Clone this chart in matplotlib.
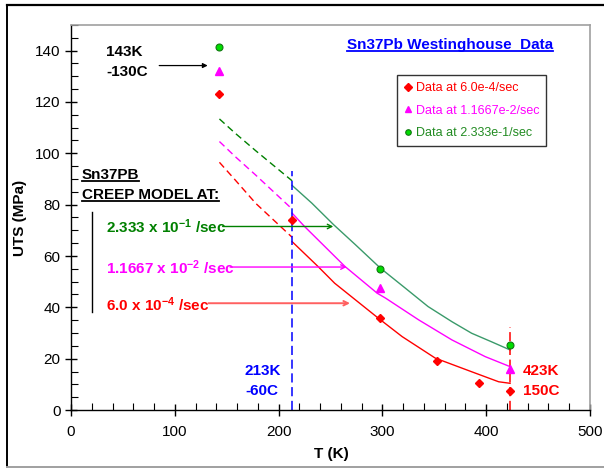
import matplotlib
matplotlib.use("Agg")
import matplotlib.pyplot as plt
from matplotlib.lines import Line2D
from matplotlib.ticker import MultipleLocator

plt.rcParams['font.family'] = ['Liberation Sans', 'DejaVu Sans']
plt.rcParams['mathtext.fontset'] = 'custom'
plt.rcParams['mathtext.rm'] = 'Liberation Sans:bold'
plt.rcParams['mathtext.bf'] = 'Liberation Sans:bold'
plt.rcParams['mathtext.default'] = 'bf'

# Measured UTS data (MPa) at three strain rates
t_slow = [143, 213, 298, 353, 393, 423]
uts_slow = [123.2, 74.0, 35.9, 19.0, 10.7, 7.4]
t_mid = [143, 298, 423]
uts_mid = [132.2, 47.7, 15.9]
t_fast = [143, 298, 423]
uts_fast = [141.4, 55.1, 25.2]

# Creep model predictions: extrapolated (dashed) and fitted (solid) ranges
t_model_ext = [143, 158, 178, 213]
model_ext_fast = [113.4, 107.9, 101.0, 89.3]
model_ext_mid = [104.6, 98.8, 91.5, 78.3]
model_ext_slow = [96.5, 89.7, 80.5, 67.3]

t_model_fast = [213, 232, 253, 274, 298, 322, 344, 367, 386, 405, 423]
model_fast = [87.5, 80.6, 72.2, 64.4, 55.3, 47.5, 40.3, 34.4, 29.9, 26.6, 23.4]
t_model_mid = [213, 225, 264, 295, 303, 335, 367, 399, 423]
model_mid = [76.7, 71.5, 55.9, 45.5, 43.6, 35.1, 27.3, 20.8, 16.9]
t_model_slow = [213, 238, 254, 296, 319, 351, 386, 412, 423]
model_slow = [65.6, 55.9, 49.4, 35.8, 28.6, 20.2, 14.9, 11.0, 10.4]

RED = '#ff0000'
MAG = '#ff00ff'
GRN = '#008000'
GRN_SOLID = '#3a9a6a'
BLUE = '#0000ff'

fig = plt.figure(figsize=(6.04, 4.69), dpi=100)
ax = fig.add_axes([71 / 604, 59 / 469, 519 / 604, 385 / 469])

dash = (0, (5, 3))
ax.plot(t_model_ext, model_ext_fast, color=GRN, lw=1.0, linestyle=dash)
ax.plot(t_model_ext, model_ext_mid, color=MAG, lw=1.0, linestyle=dash)
ax.plot(t_model_ext, model_ext_slow, color=RED, lw=1.0, linestyle=dash)
ax.plot(t_model_fast, model_fast, color=GRN_SOLID, lw=1.0)
ax.plot(t_model_mid, model_mid, color=MAG, lw=1.0)
ax.plot(t_model_slow, model_slow, color=RED, lw=1.0)

# Temperature limits of the fitted range
ax.plot([213, 213], [0, 93], color=BLUE, lw=1.1, linestyle=(0, (6, 3)))
ax.plot([423, 423], [0, 32.5], color=RED, lw=1.1, linestyle=(0, (6, 3)))

ax.plot(t_slow, uts_slow, linestyle='none', marker='D', ms=4.5, color=RED,
        label='Data at 6.0e-4/sec')
ax.plot(t_mid, uts_mid, linestyle='none', marker='^', ms=6, color=MAG,
        label='Data at 1.1667e-2/sec')
ax.plot(t_fast, uts_fast, linestyle='none', marker='o', ms=5, color='#00dd00',
        markeredgecolor='#117711', markeredgewidth=0.8,
        label='Data at 2.333e-1/sec')

ax.set_xlim(0, 500)
ax.set_ylim(0, 150)
ax.xaxis.set_major_locator(MultipleLocator(100))
ax.xaxis.set_minor_locator(MultipleLocator(20))
ax.yaxis.set_major_locator(MultipleLocator(20))
ax.yaxis.set_minor_locator(MultipleLocator(5))
ax.set_yticks([0, 20, 40, 60, 80, 100, 120, 140])
ax.tick_params(which='major', direction='inout', length=9, width=1,
               labelsize=11, pad=3)
ax.tick_params(which='minor', direction='in', length=5, width=0.8)
ax.tick_params(axis='x', which='major', pad=6)

for side in ('top', 'right'):
    ax.spines[side].set_color('#a0a0a0')
    ax.spines[side].set_linewidth(1.2)
for side in ('left', 'bottom'):
    ax.spines[side].set_color('black')
    ax.spines[side].set_linewidth(1.0)

ax.set_xlabel('T (K)', fontsize=11, fontweight='bold')
ax.set_ylabel('UTS (MPa)', fontsize=11, fontweight='bold')
ax.xaxis.set_label_coords(0.502, -0.097)
ax.yaxis.set_label_coords(-0.084, 0.50)

leg = ax.legend(loc='upper left', bbox_to_anchor=(0.628, 0.870),
                fontsize=9, frameon=True, fancybox=False, edgecolor='black',
                handlelength=0.6, handletextpad=0.35, labelspacing=0.85,
                borderpad=0.55, borderaxespad=0, markerscale=0.8)
leg.get_frame().set_linewidth(1.0)
for txt, col in zip(leg.get_texts(), [RED, MAG, '#228b22']):
    txt.set_color(col)

bold = dict(fontsize=11, fontweight='bold')
ax.text(33.7, 139.4, '143K', ha='left', va='center', color='black', **bold)
ax.text(33.7, 131.6, '-130C', ha='left', va='center', color='black', **bold)
ax.annotate('', xy=(131.7, 134.2), xytext=(85, 134.2),
            arrowprops=dict(arrowstyle='-|>', color='black', lw=0.9,
                            mutation_scale=7, shrinkA=0, shrinkB=0))

title = ax.text(365, 142.4, 'Sn37Pb Westinghouse  Data', ha='center',
                va='center', color=BLUE, **bold)
h1 = ax.text(10.3, 91.7, 'Sn37PB', ha='left', va='center', color='black', **bold)
h2 = ax.text(10.3, 83.9, 'CREEP MODEL AT:', ha='left', va='center',
             color='black', **bold)
ax.plot([19.9, 19.9], [38.3, 77.3], color='black', lw=1.0)

rate_labels = [r'2.333 x 10$^{-1}$ /sec', r'1.1667 x 10$^{-2}$ /sec',
               r'6.0 x 10$^{-4}$ /sec']
rate_y = [71.4, 55.4, 41.0]
arrow_x = [(146.1, 252.7), (153.2, 265.6), (132.3, 268.8)]
arrow_y = [71.5, 55.7, 41.6]
rate_cols = [GRN, MAG, RED]
arrow_cols = [GRN, MAG, '#ff6060']
arrow_lw = [1.0, 1.0, 1.4]
for lab, y, (xa, xb), ya, c, ac, lw in zip(rate_labels, rate_y, arrow_x,
                                           arrow_y, rate_cols, arrow_cols,
                                           arrow_lw):
    ax.text(33.7, y, lab, ha='left', va='center', color=c, **bold)
    ax.annotate('', xy=(xb, ya), xytext=(xa, ya),
                arrowprops=dict(arrowstyle='->', color=ac, lw=lw,
                                mutation_scale=8, shrinkA=0, shrinkB=0))

ax.text(167.6, 15.2, '213K', ha='left', va='center', color=BLUE, **bold)
ax.text(167.6, 7.4, '-60C', ha='left', va='center', color=BLUE, **bold)
ax.text(435.1, 15.2, '423K', ha='left', va='center', color=RED, **bold)
ax.text(435.1, 7.4, '150C', ha='left', va='center', color=RED, **bold)

# Underline the headings
fig.canvas.draw()
renderer = fig.canvas.get_renderer()
W, H = fig.bbox.width, fig.bbox.height
for t, col in [(title, BLUE), (h1, 'black'), (h2, 'black')]:
    bb = t.get_window_extent(renderer)
    yline = bb.y0 + 1.0
    fig.add_artist(Line2D([bb.x0 / W, bb.x1 / W], [yline / H, yline / H],
                          color=col, lw=1.3))

# Outer frame
fig.add_artist(Line2D([7 / 604, 1.0], [1 - 5 / 469, 1 - 5 / 469],
                      color='black', lw=1.6))
fig.add_artist(Line2D([7 / 604, 7 / 604], [1 - 5 / 469, 2 / 469],
                      color='black', lw=1.4))
fig.add_artist(Line2D([7 / 604, 1.0], [2 / 469, 2 / 469],
                      color='#a0a0a0', lw=1.4))

fig.savefig('out.png', dpi=100)
